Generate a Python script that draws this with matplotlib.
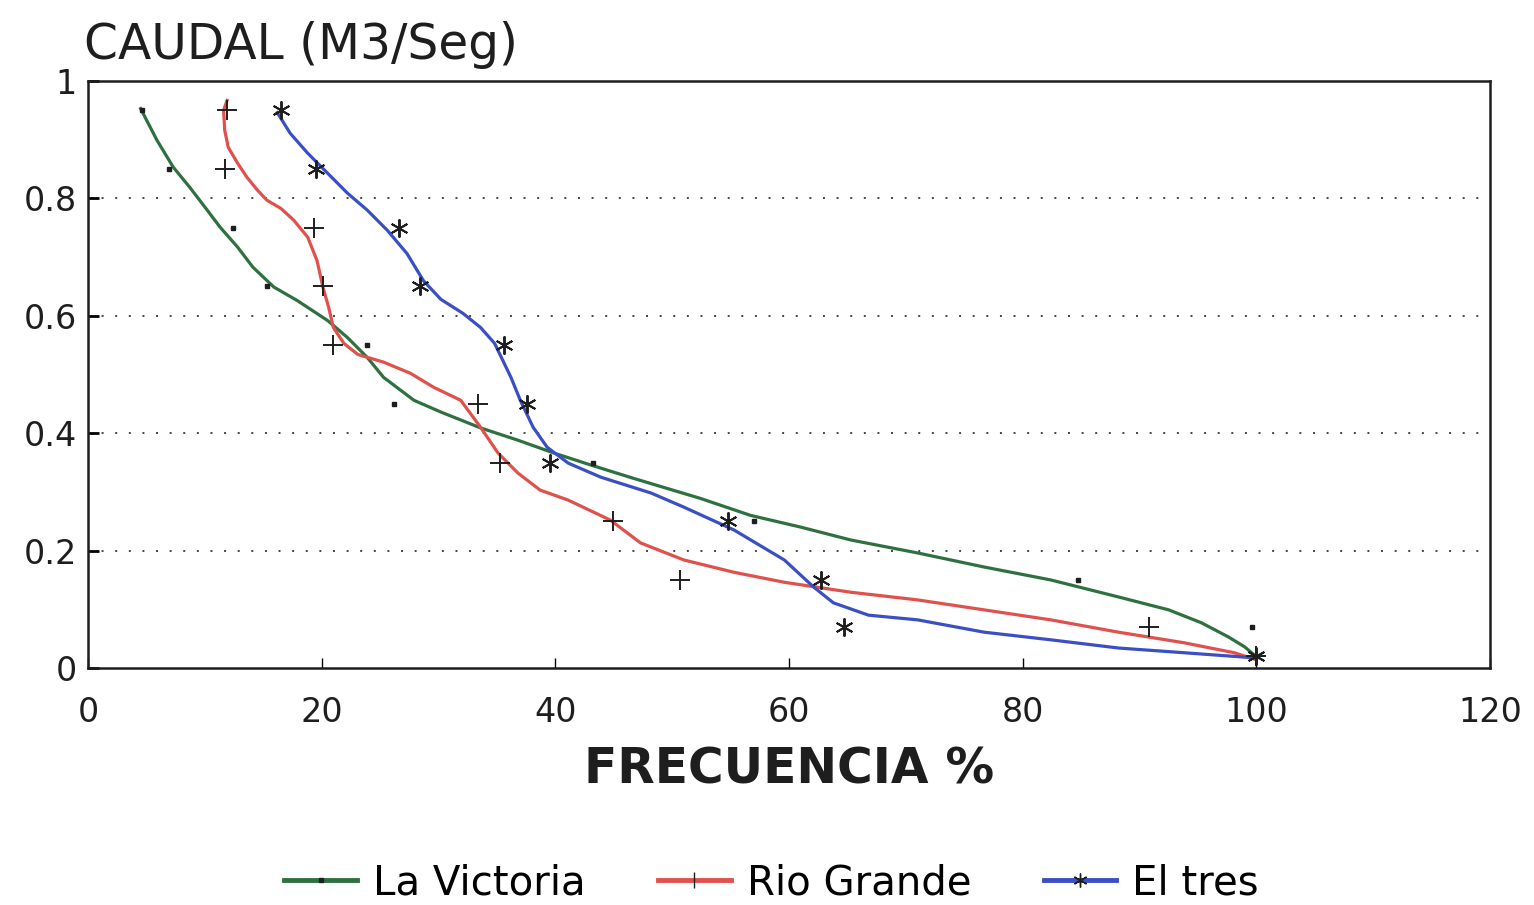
import matplotlib

matplotlib.use("Agg")
import matplotlib.pyplot as plt
from matplotlib.lines import Line2D

plt.rcParams["font.family"] = ["DejaVu Sans"]

# sampled points (markers) -- frequency % vs flow
caudal_marks = [0.95, 0.85, 0.75, 0.65, 0.55, 0.45, 0.35, 0.25, 0.15, 0.07, 0.02]
victoria_freq = [4.6, 6.9, 12.4, 15.3, 23.9, 26.2, 43.2, 57.0, 84.7, 99.6, 100.0]
riogrande_freq = [11.9, 11.7, 19.3, 20.1, 21.0, 33.4, 35.3, 44.9, 50.7, 90.8, 100.0]
eltres_freq = [16.5, 19.5, 26.6, 28.4, 35.6, 37.6, 39.5, 54.8, 62.7, 64.7, 100.0]

# fitted curves
victoria_curve_x = [4.5, 5.9, 7.3, 8.7, 10.2, 11.3, 12.8, 14.1, 15.9, 17.9, 20.5, 22.2,
                    23.9, 25.3, 26.5, 27.9, 30.2, 33.6, 36.8, 39.9, 43.0, 46.7, 52.4,
                    56.7, 61.0, 65.3, 71.0, 76.7, 82.4, 88.2, 92.5, 95.3, 97.6, 99.0, 100.0]
victoria_curve_y = [0.953, 0.899, 0.853, 0.819, 0.780, 0.751, 0.717, 0.683, 0.649, 0.626,
                    0.592, 0.563, 0.529, 0.495, 0.477, 0.456, 0.436, 0.409, 0.388, 0.366,
                    0.346, 0.323, 0.289, 0.260, 0.240, 0.218, 0.196, 0.172, 0.150, 0.121,
                    0.099, 0.077, 0.053, 0.036, 0.019]

riogrande_curve_x = [11.9, 11.6, 11.7, 12.0, 12.8, 13.6, 14.5, 15.3, 16.5, 17.6, 18.8,
                     19.6, 20.1, 20.6, 21.0, 21.9, 23.1, 25.3, 27.6, 29.6, 31.9, 33.6,
                     35.1, 36.8, 38.7, 41.1, 44.7, 47.3, 51.0, 55.3, 59.6, 65.3, 71.0,
                     76.7, 82.4, 88.2, 93.8, 98.1, 100.0]
riogrande_curve_y = [0.967, 0.950, 0.916, 0.887, 0.860, 0.836, 0.814, 0.797, 0.783, 0.763,
                     0.734, 0.694, 0.649, 0.614, 0.580, 0.553, 0.534, 0.521, 0.502, 0.478,
                     0.456, 0.410, 0.366, 0.332, 0.303, 0.286, 0.252, 0.213, 0.184, 0.163,
                     0.146, 0.129, 0.116, 0.099, 0.082, 0.061, 0.043, 0.026, 0.014]

eltres_curve_x = [16.2, 17.3, 18.8, 20.5, 22.2, 23.9, 25.6, 27.3, 28.7, 30.2, 32.1, 33.6,
                  34.8, 35.5, 36.2, 37.0, 38.1, 39.3, 41.1, 43.9, 48.2, 51.0, 55.3, 59.6,
                  62.1, 63.8, 66.8, 71.0, 76.7, 82.4, 88.2, 93.8, 100.0]
eltres_curve_y = [0.946, 0.911, 0.877, 0.843, 0.809, 0.780, 0.746, 0.706, 0.660, 0.628,
                  0.604, 0.580, 0.553, 0.524, 0.495, 0.456, 0.410, 0.376, 0.349, 0.325,
                  0.298, 0.274, 0.235, 0.184, 0.138, 0.111, 0.090, 0.082, 0.061, 0.048,
                  0.034, 0.026, 0.017]

x_ticks = [0, 20, 40, 60, 80, 100, 120]
y_ticks = [0, 0.2, 0.4, 0.6, 0.8, 1]
y_tick_labels = ["0", "0.2", "0.4", "0.6", "0.8", "1"]

GREEN = "#2f7040"
RED = "#e0504c"
BLUE = "#3b4fc4"
INK = "#1e1e1e"

fig = plt.figure(figsize=(15.34, 9.05), dpi=100)
ax = fig.add_axes([0.0574, 0.2619, 0.9139, 0.6486])

for y in [0.2, 0.4, 0.6, 0.8]:
    ax.axhline(y, color="#444444", linewidth=1.4, linestyle=(0, (1, 6)), zorder=1)

ax.plot(victoria_curve_x, victoria_curve_y, color=GREEN, linewidth=2.3, zorder=3)
ax.plot(riogrande_curve_x, riogrande_curve_y, color=RED, linewidth=2.3, zorder=3)
ax.plot(eltres_curve_x, eltres_curve_y, color=BLUE, linewidth=2.3, zorder=3)

ax.plot(victoria_freq, caudal_marks, linestyle="none", marker="s", markersize=2.5,
        color=INK, zorder=4)
ax.plot(riogrande_freq, caudal_marks, linestyle="none", marker="+", markersize=15,
        markeredgewidth=1.4, color=INK, zorder=4)
ax.plot(eltres_freq, caudal_marks, linestyle="none", marker=(6, 2, 0), markersize=13,
        markeredgewidth=1.4, color=INK, zorder=4)

ax.set_xlim(0, 120)
ax.set_ylim(0, 1)
ax.set_xticks(x_ticks)
ax.set_yticks(y_ticks)
ax.set_yticklabels(y_tick_labels)
ax.tick_params(axis="x", direction="in", length=7, width=1, pad=20, labelsize=24,
               labelcolor=INK)
ax.tick_params(axis="y", direction="in", length=8, width=2, pad=8, labelsize=24,
               labelcolor=INK)
for spine in ax.spines.values():
    spine.set_linewidth(1.8)
    spine.set_color(INK)

ax.set_xlabel("FRECUENCIA %", fontsize=35, fontweight="bold", labelpad=12, color=INK)
fig.text(0.055, 0.950, "CAUDAL (M3/Seg)", fontsize=35, ha="left", va="center",
         color=INK)

handles = [
    Line2D([], [], color=GREEN, linewidth=3.5, marker="s", markersize=2.5,
           markerfacecolor=INK, markeredgecolor=INK),
    Line2D([], [], color=RED, linewidth=3.5, marker="|", markersize=12,
           markeredgecolor=INK, markeredgewidth=1),
    Line2D([], [], color=BLUE, linewidth=3.5, marker=(6, 2, 0), markersize=10,
           markeredgecolor=INK, markeredgewidth=1),
]
fig.legend(handles, ["La Victoria", "Rio Grande", "El tres"], loc="center",
           bbox_to_anchor=(0.503, 0.024), ncol=3, frameon=False, fontsize=29,
           handlelength=1.8, handletextpad=0.4, columnspacing=1.8)

fig.savefig("out.png", dpi=100)
